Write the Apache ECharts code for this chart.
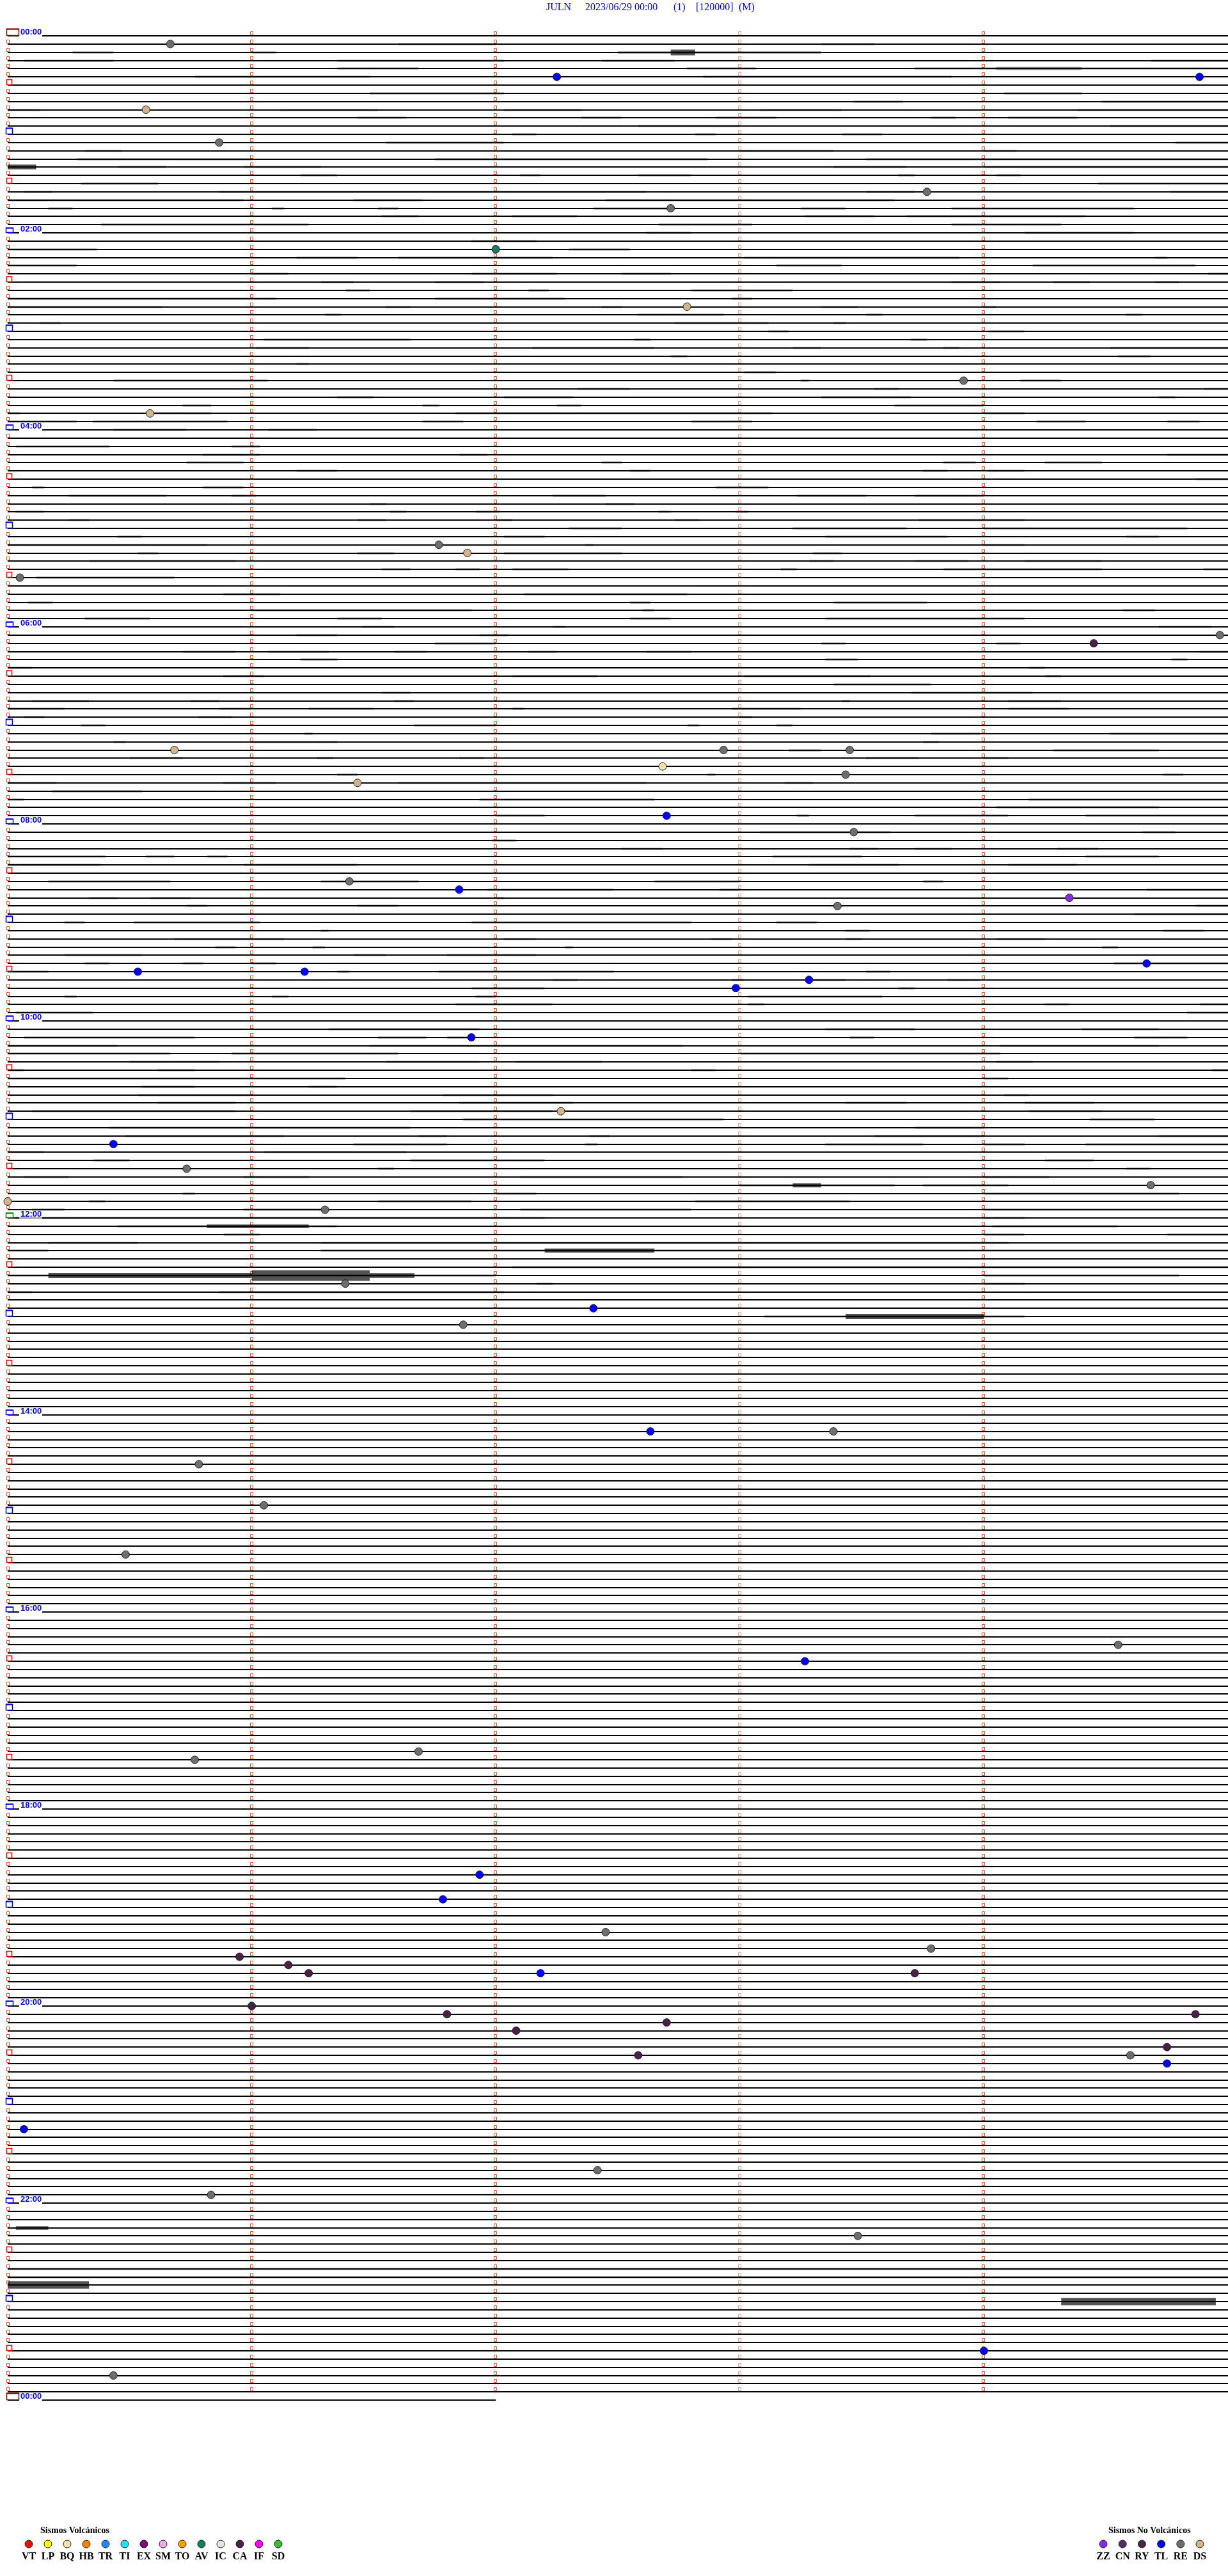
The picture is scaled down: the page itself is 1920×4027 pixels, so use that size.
<!DOCTYPE html>
<html><head><meta charset="utf-8">
<script src="https://cdn.jsdelivr.net/npm/echarts@6/dist/echarts.min.js"></script>
<style>html,body{margin:0;padding:0;background:#fff}#c{width:1920px;height:4027px}</style>
</head><body><div id="c"></div>
<script>
// ---------- DATA ----------
const N_ROWS = 288;                 // 5-minute rows, 24 h
const SECONDS_PER_ROW = 300;
const LAST_ROW_SECONDS = 120;
const minuteMarks = [60, 120, 180, 240];
const hourLabels = ['00:00','02:00','04:00','06:00','08:00','10:00','12:00','14:00','16:00','18:00','20:00','22:00','00:00'];
const titleParts = ['JULN', '2023/06/29 00:00', '(1)', '[120000]', '(M)'];

// events: [second within row, row index]
const evRE = [[40,1],[52,13],[226,19],[163,21],[235,42],[106,62],[3,66],[298,73],[176,87],[207,87],[206,90],[208,97],[84,103],[204,106],[44,138],[281,140],[78,143],[83,152],[112,157],[203,170],[47,174],[63,179],[29,185],[273,196],[101,209],[46,210],[147,231],[227,233],[276,246],[145,260],[50,263],[209,268],[26,285]];
const evTL = [[135,5],[293,5],[162,95],[111,104],[280,113],[32,114],[73,114],[197,115],[179,116],[114,122],[26,135],[144,155],[158,170],[196,198],[116,224],[107,227],[131,236],[285,247],[4,255],[240,282]];
const evDS = [[34,9],[167,33],[35,46],[113,63],[41,87],[86,91],[136,131],[0,142]];
const evBQ = [[161,89]];
const evAV = [[120,26]];
const evZZ = [[261,105]];
const evCA = [[267,74],[57,234],[69,235],[74,236],[223,236],[60,240],[108,241],[292,241],[162,242],[125,243],[285,245],[155,246]];

// legend
const volcCodes  = ['VT','LP','BQ','HB','TR','TI','EX','SM','TO','AV','IC','CA','IF','SD'];
const volcColors = ['#ff0000','#ffff00','#f2e2a8','#ff8000','#1e88ff','#00f0ff','#800080','#f0a8e8','#ffa000','#108060','#e4e4e4','#4a2048','#ff00ff','#30c030'];
const nonCodes   = ['ZZ','CN','RY','TL','RE','DS'];
const nonColors  = ['#8a2be2','#503060','#482848','#0000ff','#6e6e6e','#d2b48c'];

// noise segments: [row, startSec, endSec, amplitude(tenths of row)]
const noise = [
[1,96,120],[1,200,213],
[2,16,26],[2,60,66],[2,150,200,1.6],[2,163,169,3.5],
[3,4,26],[3,81,122],[3,146,164],[3,281,300],
[4,81,101],[4,167,184],[4,223,300],[4,243,264,2],
[5,46,89],[5,171,232],
[7,89,122],[7,245,264],
[8,208,220],[8,269,300],
[9,0,8],[9,67,91],[9,122,141],[9,185,205],[9,263,300],
[10,86,98],[10,141,151],[10,174,189],[10,227,233],[10,246,263],
[11,155,180],[11,271,300],
[12,124,130],[12,169,174],[12,205,215],
[13,93,122],[13,287,300],
[14,19,28],[14,180,203],[14,240,248],
[15,17,60],[15,105,172],[15,211,300],
[16,0,7,3],[16,27,39],[16,58,77],[16,203,221],[16,240,300],
[17,72,81],[17,126,131],[17,155,168],[17,219,223],[17,243,249],
[18,18,37],[18,268,300],
[19,4,11],[19,52,157],[19,211,223],[19,286,300],
[20,0,58],[20,85,102],[20,147,218],
[21,10,16],[21,65,68],[21,91,96],[21,144,163],[21,195,206],[21,232,277],
[22,92,101],[22,124,140],[22,196,213],[22,221,265],
[23,23,74],[23,160,183],[23,232,259],
[24,157,168],[24,250,277],
[25,114,130],
[26,0,22],[26,138,153],
[27,71,86],[27,96,134],[27,181,234],[27,282,285],
[28,0,17],[28,189,205],[28,252,292],
[29,60,69],[29,114,135],[29,151,163],[29,295,300],
[30,77,85],[30,105,117],[30,232,244],[30,257,266],[30,282,288],
[31,83,89],[31,128,133],[31,168,193],
[32,0,66],[32,105,137],[32,178,183],
[33,0,38],[33,93,99],[33,146,151],[33,200,209],[33,240,243],
[34,78,82],[34,155,176],[34,211,215],[34,275,279],
[35,8,13],[35,164,187],[35,203,206],
[36,187,192],[36,241,250],
[37,63,99],[37,154,158],[37,222,226],
[38,61,74],[38,129,159],[38,193,200],[38,230,234],[38,271,300],
[39,163,167],[39,273,281],
[40,71,74],[41,181,189],
[42,26,64],[42,195,197],[42,249,259],
[43,140,153],[43,213,219],[43,294,300],
[44,81,90],[44,122,139],[44,200,222],[44,283,287],
[45,43,50],[45,102,106],[45,135,141],[45,218,240],
[46,0,3],[46,35,50],[46,110,188],[46,240,250],
[47,0,17],[47,21,54],[47,102,112],[47,168,183],[47,253,265],[47,285,293],
[48,26,44],[48,64,76],
[50,2,25],[50,55,62],
[51,48,62],[51,111,118],[51,285,300],
[52,44,58],[52,146,151],[52,230,238],[52,255,269],
[53,71,81],[53,153,158],[53,225,231],[53,241,250],
[54,292,300],
[55,6,9],[55,48,58],[55,174,187],
[56,15,39],[56,55,61],[56,134,147],[56,194,211],[56,223,240],
[57,89,93],[57,147,154],
[58,2,9],[58,94,98],[58,115,121],[58,160,163],[58,179,182],
[59,15,20],[59,86,93],[59,120,124],[59,164,170],[59,224,250],
[60,138,151],[60,193,221],[60,240,290],
[61,27,33],[61,122,132],[61,201,231],[61,275,283],
[62,0,49],[62,142,144],[62,240,250],
[63,32,37],[63,86,95],[63,122,151],[63,198,205],
[64,20,56],[64,197,203],[64,223,236],[64,250,269],
[65,92,99],[65,110,116],[65,124,138],[65,190,194],[65,230,269],[65,294,300],
[66,7,41],
[68,53,67],[68,127,167],
[69,5,11],[69,153,158],[69,203,226],
[70,60,114],[70,156,159],[70,274,282],
[71,19,35],[71,81,92],[71,153,163],[71,201,250],
[72,87,95],[72,134,137],[72,283,296],
[73,71,81],[73,116,123],
[74,105,120],[74,200,206],[74,243,249],
[75,43,56],[75,64,79],[75,95,103],[75,128,135],[75,157,168],[75,293,300],
[76,72,81],[76,201,209],[76,286,290],
[77,0,6],[77,251,255],
[78,53,63],[78,124,145],[78,181,212],[78,255,259],
[79,203,227],
[80,92,99],[80,222,252],
[81,6,20],[81,45,52],[81,95,100],[81,205,207],[81,246,259],
[82,0,14],[82,52,60],[82,74,90],[82,124,127],[82,178,195],[82,246,261],
[83,4,9],[83,47,55],[83,180,183],
[84,18,24],[84,100,120],[84,167,170],[84,189,193],
[85,73,75],[85,227,239],[85,271,300],
[86,26,29],[86,60,81],[86,225,229],
[87,192,200],[87,257,283],
[88,30,43],[88,76,80],[88,111,117],[88,211,224],[88,240,246],
[90,81,86],[90,172,174],[90,284,289],
[91,0,12],[91,53,66],[91,96,157],[91,191,198],
[92,11,33],
[93,0,4],[93,116,159],[93,251,300],
[94,243,283],
[95,120,132],[95,194,197],[95,223,246],[95,265,300],
[97,185,217],[97,279,287],
[98,119,125],
[99,151,161],[99,207,214],[99,223,232],[99,258,268],
[100,0,24],[100,34,41],[100,49,54],[100,188,210],[100,265,283],
[101,0,23],[101,58,86],[101,197,219],[101,246,263],
[103,10,40],[103,77,101],[103,159,180],[103,225,230],
[104,118,149],[104,175,180],[104,280,300],
[105,20,27],[105,35,45],[105,120,122],
[106,44,49],[106,86,96],[106,292,300],
[107,277,300],
[108,14,19],[108,31,62],[108,114,168],[108,189,199],
[109,77,79],[109,206,212],[109,284,294],
[110,41,68],[110,122,130],[110,173,178],[110,206,210],[110,243,255],
[111,51,56],[111,75,78],[111,137,139],[111,269,273],
[112,14,33],[112,85,93],[112,108,130],
[113,19,25],[113,43,48],[113,60,66],[113,272,300],
[114,0,10],[114,81,84],[114,106,149],[114,211,217],
[115,134,140],[115,178,181],[115,197,206],[115,231,239],
[116,114,132],[116,219,223],
[117,14,17],[117,65,69],[117,115,120],[117,182,215],
[118,110,134],[118,182,186],[118,255,261],[118,293,300],
[119,2,21],[119,290,300],
[121,79,116],[121,201,223],[121,264,283],
[122,4,46],[122,91,103],[122,108,114],[122,207,213],[122,277,290],
[123,0,27],[123,89,166],[123,244,283],
[124,0,40],[124,55,96],[124,180,244],
[125,30,52],[125,93,116],[125,125,146],[125,243,252],
[126,0,4],[126,37,46],[126,168,174],[126,296,300],
[127,0,83],[127,240,246],
[128,33,46],[128,74,81],
[129,32,60],[129,107,134],[129,245,251],
[130,37,56],[130,111,139],[130,206,221],[130,250,267],
[131,6,56],[131,99,134],[131,251,269],
[132,112,176],[132,266,282],
[133,25,99],[133,223,240],
[134,29,68],[134,101,108],[134,143,148],[134,213,240],[134,283,300],
[135,85,108],[135,142,145],[135,201,225],[135,240,250],[135,265,300],
[136,0,9],[136,63,98],
[137,21,30],[137,99,132],[137,255,267],
[138,91,95],[138,275,281],
[139,4,15],[139,58,74],[139,126,166],[139,240,256],
[140,180,218],[140,193,200,2.5],[140,225,246],
[141,43,46],[141,120,130],[141,240,288],
[142,20,24],[142,91,114],[142,169,207],
[143,6,14],[143,58,79],[143,126,168],[143,240,300],
[144,2,132],[144,240,250],
[145,27,81],[145,49,74,2.2],[145,242,273],
[146,53,62],[146,240,250],[146,285,300],
[147,10,32],[147,77,246],
[148,0,10],[148,77,300,1.3],[148,132,159,2.5],
[150,124,300],
[151,0,120,1.3],[151,10,60,3.2],[151,60,89,6.5],[151,89,100,3],[151,240,288],
[152,130,134],[152,240,250],
[153,0,6],[153,52,122],
[156,186,250,1.4],[156,206,240,3.2],
[267,2,10,2.2],[272,0,300],[273,0,300],
[274,0,20,4.5],[276,259,297,4.5]
];

// ---------- CHART ----------
const chart = echarts.init(document.getElementById('c'), null, {renderer: 'canvas'});
const rowIdx = [];
for (let r = 0; r <= N_ROWS; r++) rowIdx.push([r]);
const BLUE = '#0000ff';

function renderRow(params, api) {
  const r = api.value(0);
  const base = api.coord([0, r]);
  const y = Math.round(base[1]);
  const x0 = base[0];
  const xEnd = api.coord([r === N_ROWS ? LAST_ROW_SECONDS : SECONDS_PER_ROW, r])[0];
  const ch = [];
  ch.push({type: 'line', shape: {x1: x0, y1: y, x2: xEnd, y2: y}, style: {stroke: '#000', lineWidth: 2}});
  if (r < N_ROWS) {
    minuteMarks.forEach(m => {
      const px = Math.round(api.coord([m, r])[0]);
      ch.push({type: 'rect', shape: {x: px - 2.5, y: y - 6.5, width: 4, height: 5},
        style: {fill: 'none', stroke: m === 180 ? '#ff9a80' : '#ff4a14', lineWidth: 1}});
    });
  }
  const lx = Math.round(x0);
  if (r % 24 === 0) {
    const lab = hourLabels[r / 24];
    const isMid = (r === 0 || r === N_ROWS);
    const col = isMid ? '#8b0000' : (r === 144 ? '#008000' : BLUE);
    ch.push({type: 'rect', shape: {x: lx + 18, y: y - 12, width: 36, height: 13.5}, style: {fill: '#fff'}});
    if (isMid) {
      ch.push({type: 'rect', shape: {x: lx - 1.5, y: y - 10.5, width: 19, height: 10}, style: {fill: '#fff', stroke: col, lineWidth: 1.5}});
      ch.push({type: 'line', shape: {x1: lx - 2, y1: y - 10.5, x2: lx + 17.5, y2: y - 10.5}, style: {stroke: col, lineWidth: 2}});
    } else {
      ch.push({type: 'rect', shape: {x: lx - 2.5, y: y - 7.5, width: 11, height: 7}, style: {fill: '#fff', stroke: col, lineWidth: 1.5}});
      ch.push({type: 'line', shape: {x1: lx - 3, y1: y - 7.5, x2: lx + 8.5, y2: y - 7.5}, style: {stroke: col, lineWidth: 2}});
    }
    ch.push({type: 'text', x: lx + 20, y: y + 1, style: {text: lab, fill: BLUE,
      font: 'bold 13px "Liberation Sans Narrow", "Liberation Sans", sans-serif', textAlign: 'left', textVerticalAlign: 'bottom'}});
  } else if (r % 24 === 12) {
    ch.push({type: 'rect', shape: {x: lx - 2.5, y: y - 9.5, width: 10, height: 9}, style: {fill: '#fff', stroke: BLUE, lineWidth: 1.5}});
    ch.push({type: 'line', shape: {x1: lx - 3, y1: y - 9.5, x2: lx + 7.5, y2: y - 9.5}, style: {stroke: BLUE, lineWidth: 2}});
  } else if (r % 12 === 6) {
    ch.push({type: 'rect', shape: {x: lx - 1.5, y: y - 8.5, width: 8, height: 8}, style: {fill: '#fff', stroke: '#ff0000', lineWidth: 1.5}});
  } else {
    ch.push({type: 'rect', shape: {x: lx - 1.5, y: y - 6.5, width: 4, height: 5}, style: {fill: 'none', stroke: '#ff4a14', lineWidth: 1}});
  }
  return {type: 'group', children: ch};
}

function renderNoise(params, api) {
  const r = api.value(0), s0 = api.value(1), s1 = api.value(2), a = api.value(3);
  const p0 = api.coord([s0, r]), p1 = api.coord([s1, r]);
  const unit = api.size([0, 1])[1] / 10;
  const h = Math.max(1.8, a * unit);
  const y = Math.round(p0[1]);
  return {type: 'rect', shape: {x: p0[0], y: y - h, width: Math.max(1, p1[0] - p0[0]), height: 2 * h},
    style: {fill: a > 2 ? 'rgba(0,0,0,0.68)' : 'rgba(0,0,0,0.32)'}};
}

const typeColor = {};
volcCodes.forEach((c, i) => typeColor[c] = volcColors[i]);
nonCodes.forEach((c, i) => typeColor[c] = nonColors[i]);
const eventSets = [['RE', evRE], ['TL', evTL], ['DS', evDS], ['BQ', evBQ], ['AV', evAV], ['ZZ', evZZ], ['CA', evCA]];

const series = [
  {type: 'custom', name: 'rows', renderItem: renderRow, data: rowIdx, encode: {y: 0}, z: 2, silent: true},
  {type: 'custom', name: 'noise', renderItem: renderNoise,
   data: noise.map(d => [d[0], d[1], d[2], d.length > 3 ? d[3] : 1.0]), encode: {y: 0, x: [1, 2]}, z: 3, silent: true}
];
eventSets.forEach(([code, arr]) => {
  series.push({type: 'scatter', name: code, data: arr, symbol: 'circle', symbolSize: 12, z: 5,
    itemStyle: {color: typeColor[code], borderColor: '#202020', borderWidth: 1, opacity: 1}});
});

// graphics: title + legends
const graphics = [];
const titleX = [854, 915, 1053, 1088, 1155];
titleParts.forEach((t, i) => graphics.push({type: 'text', left: titleX[i], top: 4,
  style: {text: t, fill: BLUE, font: '16px "Liberation Serif", serif'}}));
graphics.push({type: 'text', left: 63, top: 3949, style: {text: 'Sismos Volcánicos', fill: '#000', font: 'bold 14px "Liberation Serif", serif'}});
volcCodes.forEach((c, i) => {
  const cx = 45 + 30 * i;
  graphics.push({type: 'circle', shape: {cx: cx, cy: 3977, r: 6}, style: {fill: volcColors[i], stroke: '#222', lineWidth: 1}});
  graphics.push({type: 'text', x: cx, y: 3997, style: {text: c, fill: '#000', font: 'bold 16px "Liberation Serif", serif', textAlign: 'center', textVerticalAlign: 'middle'}});
});
graphics.push({type: 'text', left: 1733, top: 3949, style: {text: 'Sismos No Volcánicos', fill: '#000', font: 'bold 14px "Liberation Serif", serif'}});
nonCodes.forEach((c, i) => {
  const cx = 1725 + 30.2 * i;
  graphics.push({type: 'circle', shape: {cx: cx, cy: 3977, r: 6}, style: {fill: nonColors[i], stroke: '#222', lineWidth: 1}});
  graphics.push({type: 'text', x: cx, y: 3997, style: {text: c, fill: '#000', font: 'bold 16px "Liberation Serif", serif', textAlign: 'center', textVerticalAlign: 'middle'}});
});

chart.setOption({
  animation: false,
  backgroundColor: '#fff',
  grid: {left: 12, right: 0, top: 56, bottom: 275, containLabel: false},
  xAxis: {type: 'value', min: 0, max: SECONDS_PER_ROW, show: false},
  yAxis: {type: 'value', min: 0, max: N_ROWS, inverse: true, show: false},
  graphic: graphics,
  series: series
});
</script></body></html>
